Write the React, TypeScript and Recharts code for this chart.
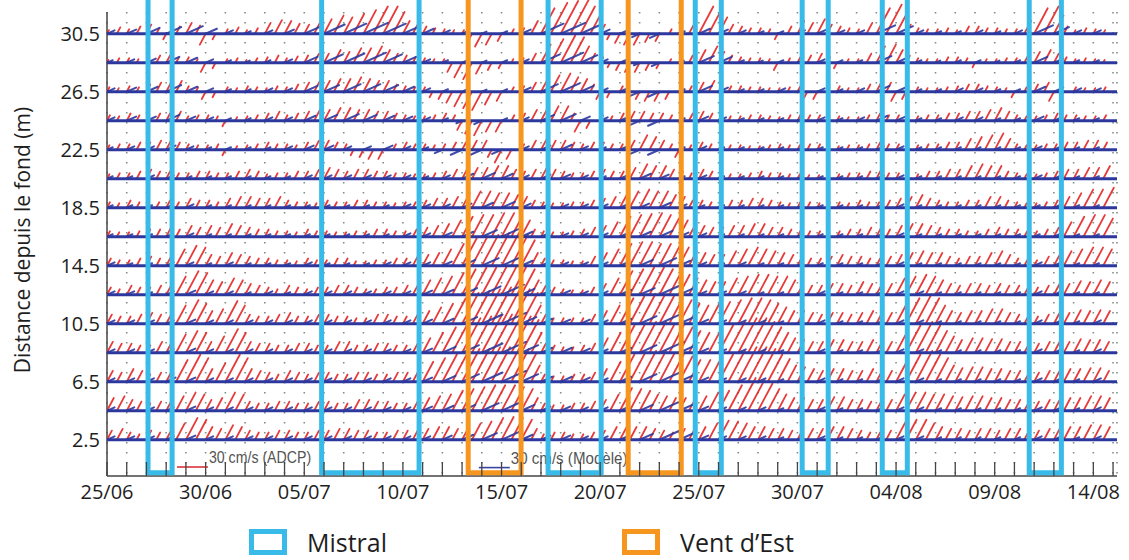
import {
  ComposedChart,
  Scatter,
  XAxis,
  YAxis,
  CartesianGrid,
  ReferenceLine,
  ReferenceArea,
} from "recharts";

// depth of each ADCP bin (m above the bottom), top row first
const DEPTHS = [30.5, 28.5, 26.5, 24.5, 22.5, 20.5, 18.5, 16.5, 14.5, 12.5, 10.5, 8.5, 6.5, 4.5, 2.5];
const Y_TICKS = [2.5, 6.5, 10.5, 14.5, 18.5, 22.5, 26.5, 30.5];

// days since 25/06; one tick per day, a date every 5 days
const DAY_TICKS = Array.from({ length: 52 }, (_, i) => i);
const LABEL_DAYS = [0, 5, 10, 15, 20, 25, 30, 35, 40, 45, 50];
const DATE_LABELS = ["25/06", "30/06", "05/07", "10/07", "15/07", "20/07", "25/07", "30/07", "04/08", "09/08", "14/08"];

// wind events (start day, end day)
const MISTRAL = [[2.08, 3.3], [10.88, 15.82], [22.36, 25.05], [29.82, 31.14], [35.24, 36.56], [39.3, 40.57], [46.75, 48.38]];
const VENT_EST = [[18.31, 20.99], [26.42, 29.11]];

// ADCP current speed every 12 h, cm/s (red); negative = stick pointing down
const RED_30_5 = [
  4, 7, 5, 8, 10, 6, -6, 8, 12, 9,
  -12, -6, 5, 7, 4, 6, 12, 15, 14, 11,
  10, 14, 16, 20, 18, 22, 26, 30, 30, 24,
  14, 10, 8, 6, 5, 4, 4, -8, -14, -12,
  -8, 5, 6, 14, 28, 34, 36, 38, 30, 20,
  10, -6, -10, -12, -12, -9, -8, 5, 6, 12,
  30, 26, 18, 10, 8, 6, 6, 5, -6, 8,
  14, 12, 16, 10, 8, 6, 5, 12, 28, 32,
  22, 10, 6, 5, 5, 6, 4, 8, 8, 6,
  6, 5, 5, 14, 28, 30, 20, 8, 4, 6,
  5, 4,
];
const RED_28_5 = [
  3, 5, 5, 4, 6, 8, 8, 6, 6, 4,
  -10, -6, 4, 5, 3, 5, 6, 8, 5, 7,
  8, 10, 10, 14, 12, 16, 16, 18, 14, 10,
  8, 6, 5, 4, 4, -10, -16, -18, -12, -8,
  -6, 4, 5, 10, 20, 26, 30, 28, 18, 10,
  6, -5, -8, -10, -10, -8, -6, 4, 5, 8,
  14, 18, 12, 8, 6, 5, 5, 4, -8, 5,
  6, 8, 10, 6, -6, 4, 4, 10, 18, 20,
  14, 8, 5, 4, 4, 6, 6, 5, -5, 4,
  4, 5, 5, 10, 12, 14, 10, 6, 4, 5,
  4, 3,
];
const RED_26_5 = [
  5, 4, 6, 5, 8, 10, 10, 12, 6, 5,
  -8, -6, 5, 4, 6, 5, 4, 6, 5, 8,
  10, 12, 12, 14, 14, 16, 14, 12, 12, 8,
  6, 5, 5, -6, -8, -12, -16, -18, -20, -14,
  -10, 5, 6, 10, 16, 18, 20, 16, 14, 8,
  -8, -6, 6, -5, -8, -10, -10, -8, 5, 6,
  10, 12, 8, 6, 6, 5, 5, 4, 4, 5,
  6, -6, -8, 5, 6, 4, 4, 8, 12, 10,
  -10, -8, 5, 4, 4, 5, 6, 8, 8, 6,
  5, 4, -6, 5, 8, 10, -10, -6, 5, 4,
  4, 5,
];
const RED_24_5 = [
  6, 5, 8, 6, 6, 8, 8, 10, 5, 6,
  6, 5, -6, 4, 5, 6, 8, 10, 6, 8,
  10, 12, 12, 14, 14, 12, 12, 10, 10, 8,
  6, 5, 5, 6, 8, 6, -10, -14, -16, -12,
  -12, 6, 8, 12, 14, 16, 16, 8, -12, -8,
  6, 5, 8, 10, 10, 8, 8, 6, 6, 8,
  10, 8, 6, 5, 5, 6, 6, 5, 4, 6,
  8, 6, 6, 5, 5, 4, 4, 6, 8, 6,
  6, 5, 5, 6, 6, 8, 8, 10, 10, 12,
  14, 10, 6, 5, 5, 6, 8, 6, 6, 5,
  5, 6,
];
const RED_22_5 = [
  5, 6, 6, 8, 8, 10, 10, 8, 6, 5,
  5, 6, -6, 4, 5, 6, 8, 6, 6, 5,
  8, 10, 10, 8, 6, -6, -8, -10, -10, 6,
  8, 6, 6, 5, 6, 8, 8, 10, 10, -8,
  -14, -10, 6, 10, 12, 10, 10, 8, 6, 8,
  8, 6, 6, 10, 16, 14, 10, 6, -8, 5,
  8, 6, 6, 5, 5, 4, 4, 5, 6, 5,
  5, 6, 6, 5, 4, 5, 5, 6, 8, 6,
  6, 5, 5, 6, 6, 8, 8, 12, 14, 16,
  18, 12, 6, 5, 5, 6, 6, 8, 8, 10,
  10, 8,
];
const RED_20_5 = [
  5, 6, 6, 8, 10, 8, 8, 6, 6, 8,
  8, 6, 6, 8, 10, 8, 5, 6, 6, 8,
  8, 10, 12, 10, 8, 10, 10, 8, 8, 6,
  6, 5, 5, 6, 8, 10, 10, 12, 12, 14,
  14, 10, 8, 10, 12, 10, 8, 6, 6, 8,
  10, 8, 8, 12, 16, 14, 14, 10, 8, 6,
  10, 8, 6, 5, 5, 6, 8, 6, 6, 5,
  5, 4, 4, 5, 5, 6, 6, 8, 8, 6,
  6, 5, 5, 8, 8, 10, 10, 14, 16, 14,
  14, 8, 6, 5, 5, 6, 8, 10, 10, 12,
  12, 14,
];
const RED_18_5 = [
  6, 5, 8, 6, 5, 6, 8, 6, 10, 8,
  8, 6, 10, 12, 12, 10, 10, 12, 8, 6,
  6, 5, 8, 6, 6, 8, 8, 6, 6, 5,
  6, 6, 8, 10, 10, 12, 16, 18, 18, 16,
  16, 14, 12, 8, 6, 5, 5, 6, 6, 8,
  10, 12, 16, 18, 20, 18, 18, 14, 12, 8,
  8, 6, 6, 8, 8, 10, 10, 8, 6, 5,
  8, 6, 5, 6, 6, 5, 8, 6, 6, 8,
  10, 12, 14, 10, 8, 6, 6, 8, 8, 12,
  12, 8, 6, 5, 5, 6, 8, 12, 16, 20,
  20, 22,
];
const RED_16_5 = [
  6, 5, 5, 6, 8, 8, 10, 8, 12, 10,
  12, 10, 14, 12, 10, 8, 8, 6, 6, 5,
  8, 6, 6, 5, 5, 6, 6, 8, 8, 6,
  6, 8, 10, 12, 14, 18, 22, 24, 24, 26,
  26, 22, 18, 8, 6, 5, 5, 6, 8, 10,
  12, 16, 22, 24, 25, 26, 24, 20, 18, 14,
  12, 10, 10, 12, 12, 14, 14, 10, 10, 8,
  8, 6, 6, 5, 6, 8, 8, 10, 10, 8,
  12, 14, 14, 12, 10, 8, 8, 6, 6, 8,
  10, 8, 8, 6, 6, 8, 10, 16, 22, 24,
  24, 20,
];
const RED_14_5 = [
  8, 6, 6, 8, 10, 8, 12, 18, 22, 20,
  12, 10, 14, 12, 10, 8, 8, 6, 6, 5,
  8, 6, 6, 8, 8, 5, 5, 6, 6, 8,
  8, 10, 12, 14, 18, 24, 30, 32, 34, 36,
  36, 34, 28, 14, 8, 6, 6, 5, 5, 10,
  14, 18, 24, 26, 26, 24, 24, 22, 20, 16,
  14, 12, 12, 16, 18, 20, 18, 16, 14, 12,
  10, 8, 8, 10, 12, 10, 10, 8, 8, 10,
  12, 14, 16, 14, 14, 10, 8, 10, 10, 14,
  16, 12, 8, 6, 6, 10, 12, 16, 18, 20,
  20, 18,
];
const RED_12_5 = [
  8, 6, 10, 8, 8, 10, 12, 20, 26, 24,
  16, 14, 18, 16, 12, 10, 8, 6, 10, 8,
  6, 8, 8, 10, 10, 8, 6, 6, 8, 8,
  10, 12, 16, 18, 20, 24, 28, 30, 30, 32,
  32, 30, 28, 16, 10, 8, 6, 5, 5, 8,
  12, 18, 26, 28, 30, 30, 28, 26, 22, 18,
  16, 14, 14, 18, 20, 22, 22, 20, 20, 16,
  12, 10, 10, 12, 12, 10, 14, 12, 10, 12,
  18, 20, 22, 20, 16, 12, 10, 12, 12, 10,
  12, 10, 10, 8, 8, 10, 14, 12, 15, 14,
  16, 14,
];
const RED_10_5 = [
  10, 8, 8, 10, 12, 10, 10, 20, 26, 22,
  14, 16, 25, 20, 10, 8, 8, 10, 12, 8,
  8, 10, 10, 8, 8, 6, 6, 10, 10, 8,
  8, 10, 14, 18, 22, 28, 34, 36, 38, 40,
  40, 38, 34, 20, 10, 6, 6, 6, 6, 10,
  14, 20, 28, 30, 33, 32, 30, 28, 26, 22,
  20, 22, 24, 26, 28, 28, 26, 22, 18, 14,
  14, 12, 10, 12, 12, 10, 12, 14, 14, 12,
  22, 28, 32, 28, 20, 14, 12, 14, 14, 16,
  16, 12, 10, 8, 8, 10, 14, 12, 15, 14,
  15, 14,
];
const RED_8_5 = [
  12, 10, 10, 8, 8, 12, 14, 20, 24, 22,
  12, 18, 26, 22, 12, 10, 10, 8, 8, 10,
  10, 8, 8, 12, 12, 8, 8, 10, 10, 8,
  8, 12, 16, 22, 28, 34, 38, 40, 42, 42,
  42, 40, 36, 22, 10, 8, 6, 6, 8, 10,
  16, 22, 30, 32, 34, 34, 32, 30, 28, 24,
  22, 26, 30, 34, 38, 38, 34, 28, 22, 16,
  14, 12, 12, 14, 14, 12, 12, 14, 10, 12,
  24, 30, 34, 30, 24, 18, 14, 16, 16, 15,
  15, 12, 12, 10, 10, 12, 14, 12, 15, 14,
  14, 12,
];
const RED_6_5 = [
  12, 10, 14, 12, 8, 10, 14, 24, 30, 26,
  14, 20, 30, 26, 14, 12, 10, 8, 12, 10,
  8, 10, 10, 8, 8, 10, 10, 8, 8, 10,
  10, 14, 22, 26, 30, 34, 36, 36, 38, 38,
  38, 36, 32, 18, 8, 6, 6, 8, 8, 10,
  14, 22, 30, 32, 34, 34, 32, 30, 28, 24,
  24, 26, 30, 34, 38, 38, 36, 30, 25, 18,
  16, 14, 12, 14, 14, 12, 12, 14, 10, 12,
  22, 30, 34, 30, 26, 18, 15, 16, 16, 14,
  14, 12, 12, 10, 10, 12, 12, 14, 14, 15,
  15, 12,
];
const RED_4_5 = [
  14, 16, 12, 10, 8, 10, 10, 16, 20, 18,
  12, 14, 20, 18, 10, 8, 8, 10, 10, 8,
  8, 10, 10, 8, 8, 12, 12, 10, 10, 8,
  8, 10, 14, 16, 18, 22, 24, 26, 28, 28,
  28, 26, 24, 14, 8, 6, 6, 8, 8, 10,
  12, 18, 25, 24, 22, 18, 16, 14, 14, 12,
  16, 20, 22, 28, 36, 34, 30, 24, 18, 14,
  14, 12, 12, 15, 15, 12, 12, 10, 10, 12,
  18, 20, 20, 18, 18, 16, 15, 16, 16, 14,
  14, 12, 12, 10, 10, 12, 12, 14, 14, 16,
  16, 14,
];
const RED_2_5 = [
  10, 12, 8, 6, 10, 8, 12, 18, 24, 22,
  14, 12, 16, 14, 10, 8, 8, 10, 10, 8,
  8, 10, 10, 12, 12, 10, 10, 8, 8, 10,
  10, 12, 12, 14, 14, 12, 12, 18, 20, 24,
  25, 24, 22, 12, 6, 8, 8, 6, 6, 8,
  10, 14, 15, 14, 14, 12, 10, 8, 12, 12,
  14, 18, 21, 20, 18, 14, 14, 12, 12, 10,
  10, 12, 12, 14, 14, 12, 10, 8, 8, 10,
  20, 22, 22, 18, 14, 12, 12, 10, 12, 12,
  10, 12, 12, 10, 10, 12, 12, 14, 14, 16,
  16, 14,
];

// model current speed, daily, cm/s (blue)
const BLUE_30_5 = [8, 10, 14, 16, 18, 12, 8, 6, 8, 10, 16, 22, 24, 26, 24, 16, 12, 8, 6, 5, 6, 10, 24, 26, 22, 10, 8, -8, -10, 6, 12, 10, 8, 6, 6, 8, 10, 8, 8, 20, 18, 8, 6, 6, 8, 6, 8, 20, 16, 8, 8];
const BLUE_28_5 = [6, 8, 10, 14, 12, 8, 6, 5, 6, 8, 14, 20, 22, 24, 20, 14, 8, 6, 5, 5, 6, 8, 20, 24, 18, 8, 6, -6, -8, 5, 16, 14, 6, 5, 6, 6, 8, 6, 6, 16, 14, 6, 5, 6, 6, 5, 6, 14, 10, 6, 6];
const BLUE_26_5 = [8, 10, 12, 16, 12, 8, 6, 6, 8, 8, 14, 16, 18, 18, 16, 12, 8, 6, 6, 5, 6, 10, 18, 20, 14, 8, 6, -10, -12, 6, 14, 10, 6, 6, 8, 6, 8, 6, 8, 14, 12, 6, 6, 8, 8, 6, 6, 12, 10, 8, 8];
const BLUE_24_5 = [8, 10, 10, 14, 10, 8, 6, 6, 8, 8, 12, 14, 16, 14, 12, 10, 8, 6, -6, -8, 6, 8, 14, 16, 10, 8, 6, -10, -12, 6, 10, 8, 6, 6, 6, 6, 8, 6, 8, 12, 10, 6, 6, 8, 8, 6, 6, 10, 8, 6, 6];
const BLUE_22_5 = [6, 8, 8, 10, 8, 6, 6, 6, 6, 8, 10, 10, 8, 8, 10, 8, 6, -8, -12, -12, -10, 8, 10, 12, 8, 6, 6, -10, -12, 6, 8, 6, 6, 6, 6, 6, 6, 6, 6, 8, 8, 6, 6, 6, 6, 6, 6, 8, 6, 6, 6];
const BLUE_20_5 = [6, 6, 8, 8, 6, 6, 6, 6, 6, 6, 8, 8, 8, 8, 8, 8, 6, 8, 12, 14, 12, 8, 10, 10, 8, 6, 8, 12, 10, 6, 8, 6, 6, 6, 6, 6, 6, 6, 6, 8, 8, 6, 6, 6, 6, 6, 6, 8, 6, 6, 6];
const BLUE_18_5 = [6, 6, 6, 6, 8, 6, 6, 6, 6, 6, 6, 6, 6, 6, 6, 8, 8, 8, 10, 12, 14, 10, 8, 8, 8, 8, 8, 10, 12, 8, 6, 6, 6, 6, 6, 6, 6, 6, 6, 6, 8, 6, 6, 6, 6, 6, 6, 6, 6, 6, 6];
const BLUE_16_5 = [6, 6, 6, 6, 8, 6, 6, 6, 6, 6, 6, 6, 6, 6, 6, 8, 8, 10, 12, 16, 18, 12, 8, 8, 8, 8, 10, 12, 14, 10, 8, 6, 6, 6, 6, 6, 6, 6, 6, 6, 8, 6, 6, 6, 6, 6, 6, 6, 6, 6, 6];
const BLUE_14_5 = [8, 6, 6, 8, 8, 6, 8, 6, 6, 6, 8, 6, 6, 6, 8, 8, 8, 10, 14, 18, 22, 12, 8, 8, 8, 8, 10, 14, 18, 12, 8, 6, 8, 6, 6, 6, 6, 6, 6, 6, 8, 6, 6, 6, 6, 6, 6, 8, 6, 6, 6];
const BLUE_12_5 = [8, 8, 6, 8, 10, 8, 8, 6, 8, 6, 8, 8, 8, 8, 8, 8, 10, 12, 16, 20, 24, 14, 10, 10, 8, 8, 12, 16, 22, 14, 8, 8, 8, 6, 6, 6, 8, 6, 6, 6, 8, 8, 6, 6, 6, 6, 6, 8, 6, 6, 6];
const BLUE_10_5 = [8, 8, 8, 8, 10, 8, 8, 8, 8, 8, 8, 8, 8, 8, 8, 8, 10, 12, 16, 22, 26, 16, 12, 10, 10, 8, 12, 18, 24, 16, 10, 8, 8, 8, 6, 6, 8, 6, 6, 6, 8, 8, 6, 6, 6, 6, 6, 8, 6, 6, 8];
const BLUE_8_5 = [8, 8, 8, 8, 10, 8, 8, 8, 8, 8, 8, 8, 8, 8, 8, 8, 10, 14, 18, 22, 26, 18, 12, 12, 10, 8, 12, 18, 26, 18, 10, 8, 8, 8, 6, 6, 8, 6, 6, 6, 8, 8, 6, 6, 6, 6, 6, 8, 6, 6, 8];
const BLUE_6_5 = [8, 8, 8, 10, 10, 8, 8, 8, 8, 8, 8, 8, 8, 8, 8, 8, 10, 14, 18, 22, 26, 18, 12, 12, 10, 8, 12, 18, 24, 18, 10, 8, 8, 8, 6, 6, 8, 6, 6, 6, 8, 8, 6, 6, 6, 6, 6, 8, 6, 6, 8];
const BLUE_4_5 = [8, 8, 8, 8, 10, 8, 8, 8, 8, 8, 8, 8, 8, 8, 8, 8, 10, 12, 14, 18, 22, 14, 10, 10, 8, 8, 10, 14, 20, 16, 10, 8, 8, 8, 6, 6, 8, 6, 6, 6, 8, 8, 6, 6, 6, 6, 6, 8, 6, 6, 8];
const BLUE_2_5 = [8, 8, 8, 8, 10, 8, 8, 8, 8, 8, 8, 8, 8, 8, 8, 8, 8, 10, 12, 16, 20, 12, 10, 10, 8, 8, 10, 14, 22, 18, 10, 8, 8, 8, 6, 6, 8, 6, 6, 6, 8, 8, 6, 6, 6, 6, 6, 8, 6, 6, 8];

const RED_ROWS = [RED_30_5, RED_28_5, RED_26_5, RED_24_5, RED_22_5, RED_20_5, RED_18_5, RED_16_5, RED_14_5, RED_12_5, RED_10_5, RED_8_5, RED_6_5, RED_4_5, RED_2_5];
const BLUE_ROWS = [BLUE_30_5, BLUE_28_5, BLUE_26_5, BLUE_24_5, BLUE_22_5, BLUE_20_5, BLUE_18_5, BLUE_16_5, BLUE_14_5, BLUE_12_5, BLUE_10_5, BLUE_8_5, BLUE_6_5, BLUE_4_5, BLUE_2_5];

// scale bars drawn at the foot of the plot
const SCALE_BARS = [
  { day: 3.55, depth: 0.62, speed: 30, text: "30 cm/s (ADCP)", color: "#d8343a" },
  { day: 18.85, depth: 0.58, speed: 30, text: "30 cm/s (Modèle)", color: "#3a43a0" },
];

const RED = "#e42626";
const BLUE = "#2c389e";
const CYAN = "#38bbe8";
const ORANGE = "#f7961e";
const AXIS = "#444";
const FONT = "'Open Sans', 'DejaVu Sans', sans-serif";
const PX_PER_CMS = 1.03;

// step = days between two values of a row
const toPoints = (rows: number[][], step: number) =>
  DEPTHS.flatMap((depth, r) => rows[r].map((speed, i) => ({ day: i * step, depth, speed })));

const redPoints = toPoints(RED_ROWS, 0.5);
const bluePoints = toPoints(BLUE_ROWS, 1);

function makeStick(color: string, angle: number, width: number, opacity: number) {
  const a = (angle * Math.PI) / 180;
  return (props: any) => {
    const { cx, cy, payload } = props;
    const len = payload.speed * PX_PER_CMS;
    return (
      <line
        x1={cx}
        y1={cy}
        x2={cx + len * Math.cos(a)}
        y2={cy - len * Math.sin(a)}
        stroke={color}
        strokeWidth={width}
        strokeOpacity={opacity}
        strokeLinecap="round"
      />
    );
  };
}

const RedStick = makeStick(RED, 62, 1.8, 0.9);
const BlueStick = makeStick(BLUE, 24, 2, 0.9);

function ScaleBar(props: any) {
  const { cx, cy, payload } = props;
  const len = payload.speed * PX_PER_CMS;
  return (
    <g>
      <line x1={cx} y1={cy} x2={cx + len} y2={cy} stroke={payload.color} strokeWidth={1.6} />
      <text
        x={cx + len + 1}
        y={cy - 4}
        fontSize={17}
        fill="#555"
        fontFamily="'Liberation Sans', sans-serif"
        textLength={payload.text.length * 7.3}
        lengthAdjust="spacingAndGlyphs"
      >
        {payload.text}
      </text>
    </g>
  );
}

function BottomTick(props: any) {
  const { x, y, payload } = props;
  const i = LABEL_DAYS.indexOf(payload.value);
  return (
    <g>
      <line x1={x} y1={y} x2={x} y2={y - 14} stroke={AXIS} strokeWidth={1.3} />
      {i >= 0 && (
        <text x={x} y={y + 23} textAnchor="middle" fontSize={20} fontFamily={FONT} fill="#1e1e1e">
          {DATE_LABELS[i]}
        </text>
      )}
    </g>
  );
}

function TopTick(props: any) {
  const { x, y } = props;
  return <line x1={x} y1={y} x2={x} y2={y + 9} stroke={AXIS} strokeWidth={1.3} />;
}

function AxisTitle(props: any) {
  const { viewBox } = props;
  const x = viewBox.x + 22;
  const y = viewBox.y + viewBox.height / 2 - 4;
  return (
    <text
      x={x}
      y={y}
      transform={`rotate(-90 ${x} ${y})`}
      textAnchor="middle"
      dominantBaseline="central"
      fontSize={21}
      fontFamily={FONT}
      fill="#1e1e1e"
    >
      Distance depuis le fond (m)
    </text>
  );
}

function LegendItem({ color, label }: { color: string; label: string }) {
  return (
    <div style={{ display: "flex", alignItems: "center", height: 26 }}>
      <div
        style={{
          width: 38,
          height: 26,
          border: `5px solid ${color}`,
          boxSizing: "border-box",
          marginRight: 20,
        }}
      />
      <span style={{ fontSize: 25, lineHeight: "26px", fontFamily: FONT, color: "#1e1e1e" }}>{label}</span>
    </div>
  );
}

export default function App() {
  return (
    <div style={{ position: "absolute", left: 0, top: 0, width: 1129, height: 560, background: "#fff" }}>
      <ComposedChart width={1129} height={560} margin={{ top: 12, right: 12, bottom: 0, left: 0 }}>
        <CartesianGrid
          horizontal={false}
          stroke="#7f8f86"
          strokeWidth={1.6}
          strokeDasharray="1.6 8.4"
        />
        <XAxis
          dataKey="day"
          type="number"
          domain={[0, 51.2]}
          ticks={DAY_TICKS}
          interval={0}
          allowDataOverflow
          height={84}
          tickSize={0}
          tickMargin={0}
          tickLine={false}
          tick={<BottomTick />}
          axisLine={{ stroke: AXIS, strokeWidth: 1.5 }}
        />
        <XAxis
          xAxisId="top"
          orientation="top"
          dataKey="day"
          type="number"
          domain={[0, 51.2]}
          ticks={DAY_TICKS}
          interval={0}
          allowDataOverflow
          height={0}
          tickSize={0}
          tickMargin={0}
          tickLine={false}
          tick={<TopTick />}
          axisLine={{ stroke: AXIS, strokeWidth: 1.5 }}
        />
        <YAxis
          dataKey="depth"
          type="number"
          domain={[0, 32]}
          ticks={Y_TICKS}
          interval={0}
          width={107}
          tickSize={0}
          tickMargin={7}
          tickLine={false}
          tick={{ fontSize: 20, fontFamily: FONT, fill: "#1e1e1e" }}
          axisLine={{ stroke: AXIS, strokeWidth: 1.5 }}
          label={<AxisTitle />}
        />
        <YAxis
          yAxisId="right"
          orientation="right"
          type="number"
          domain={[0, 32]}
          width={0}
          tick={false}
          tickLine={false}
          axisLine={{ stroke: AXIS, strokeWidth: 1.5 }}
        />
        <Scatter data={redPoints} shape={RedStick} isAnimationActive={false} />
        {DEPTHS.map((d) => (
          <ReferenceLine key={d} y={d} stroke={BLUE} strokeWidth={3.2} zIndex={650} />
        ))}
        <Scatter data={bluePoints} shape={BlueStick} isAnimationActive={false} />
        <Scatter data={SCALE_BARS} shape={ScaleBar} isAnimationActive={false} />
        {MISTRAL.map(([a, b]) => (
          <ReferenceArea
            key={`m${a}`}
            x1={a}
            x2={b}
            y1={0.22}
            y2={33.5}
            ifOverflow="visible"
            fill="none"
            fillOpacity={0}
            stroke={CYAN}
            strokeWidth={5}
            zIndex={800}
          />
        ))}
        {VENT_EST.map(([a, b]) => (
          <ReferenceArea
            key={`e${a}`}
            x1={a}
            x2={b}
            y1={0.22}
            y2={33.5}
            ifOverflow="visible"
            fill="none"
            fillOpacity={0}
            stroke={ORANGE}
            strokeWidth={5}
            zIndex={800}
          />
        ))}
      </ComposedChart>
      <div style={{ position: "absolute", left: 249, top: 529, display: "flex" }}>
        <LegendItem color={CYAN} label="Mistral" />
      </div>
      <div style={{ position: "absolute", left: 622, top: 529, display: "flex" }}>
        <LegendItem color={ORANGE} label="Vent d’Est" />
      </div>
    </div>
  );
}
